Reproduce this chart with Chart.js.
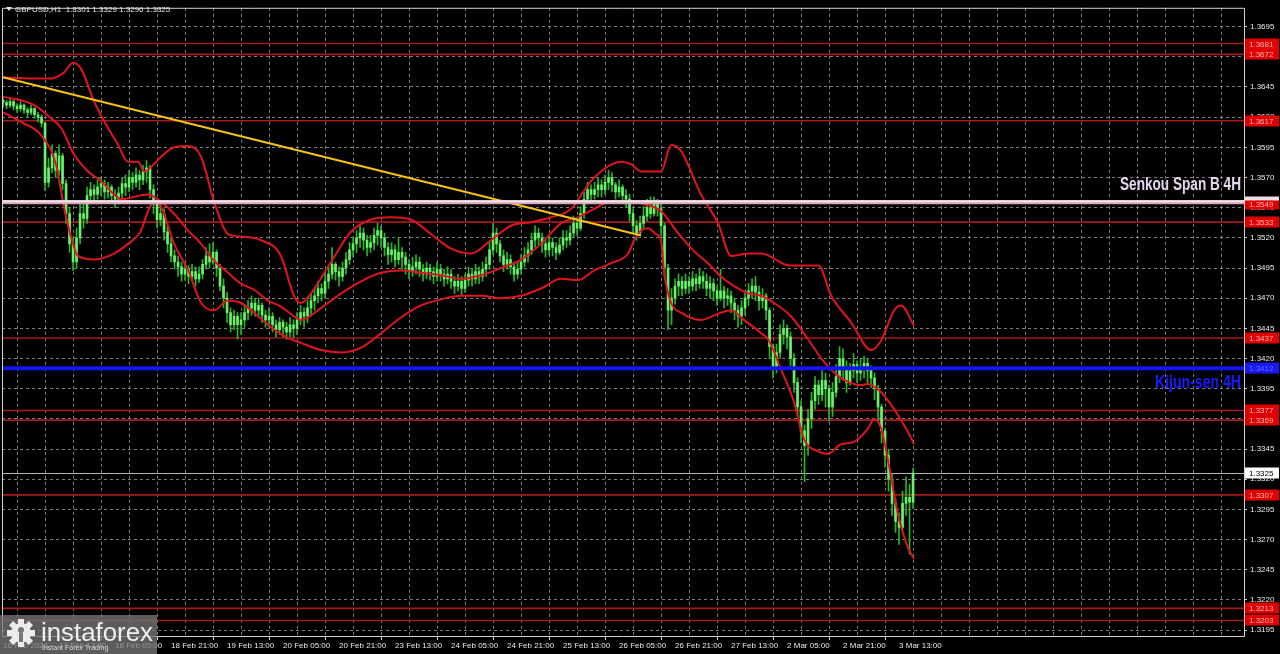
<!DOCTYPE html>
<html><head><meta charset="utf-8">
<script src="https://cdn.jsdelivr.net/npm/chart.js@4.4.1/dist/chart.umd.min.js"></script>
<style>html,body{margin:0;padding:0;background:#000;overflow:hidden}#wrap{position:relative;width:1280px;height:654px}</style>
</head><body><div id="wrap"><canvas id="c"></canvas></div>
<script>
// ---------- DATA ----------
const symbolTitle = 'GBPUSD,H1  1.3301 1.3329 1.3296 1.3325';
const xTickLabels = ['16 Feb 2026','17 Feb 13:00','18 Feb 05:00','18 Feb 21:00','19 Feb 13:00','20 Feb 05:00','20 Feb 21:00','23 Feb 13:00','24 Feb 05:00','24 Feb 21:00','25 Feb 13:00','26 Feb 05:00','26 Feb 21:00','27 Feb 13:00','2 Mar 05:00','2 Mar 21:00','3 Mar 13:00'];
const yTickValues = [1.3195,1.3220,1.3245,1.3270,1.3295,1.3320,1.3345,1.3370,1.3395,1.3420,1.3445,1.3470,1.3495,1.3520,1.3545,1.3570,1.3595,1.3620,1.3645,1.3670,1.3695];

const firstOpen = 1.3634;
const closes = [
1.3632,1.3630,1.3633,1.3629,1.3627,1.3630,1.3626,1.3624,1.3627,1.3622,
1.3620,1.3615,1.3566,1.3578,1.3590,1.3576,1.3588,1.3565,1.3540,1.3515,
1.3500,1.3520,1.3540,1.3536,1.3555,1.3560,1.3556,1.3562,1.3565,1.3558,
1.3562,1.3555,1.3552,1.3557,1.3565,1.3562,1.3570,1.3566,1.3572,1.3568,
1.3575,1.3578,1.3560,1.3548,1.3535,1.3540,1.3525,1.3515,1.3505,1.3500,
1.3496,1.3490,1.3494,1.3488,1.3492,1.3486,1.3490,1.3498,1.3505,1.3500,
1.3508,1.3495,1.3480,1.3470,1.3458,1.3448,1.3455,1.3448,1.3452,1.3458,
1.3462,1.3466,1.3460,1.3464,1.3456,1.3452,1.3455,1.3448,1.3444,1.3450,
1.3446,1.3442,1.3448,1.3445,1.3452,1.3458,1.3455,1.3462,1.3468,1.3472,
1.3478,1.3474,1.3484,1.3490,1.3498,1.3492,1.3488,1.3495,1.3502,1.3510,
1.3515,1.3520,1.3524,1.3518,1.3512,1.3516,1.3522,1.3526,1.3520,1.3512,
1.3506,1.3510,1.3502,1.3508,1.3504,1.3498,1.3492,1.3496,1.3500,1.3494,
1.3490,1.3495,1.3492,1.3488,1.3494,1.3490,1.3486,1.3490,1.3484,1.3480,
1.3484,1.3478,1.3485,1.3490,1.3486,1.3492,1.3488,1.3494,1.3498,1.3510,
1.3524,1.3515,1.3505,1.3498,1.3502,1.3496,1.3490,1.3494,1.3500,1.3505,
1.3510,1.3518,1.3524,1.3520,1.3515,1.3510,1.3516,1.3512,1.3508,1.3514,
1.3520,1.3518,1.3524,1.3532,1.3528,1.3540,1.3552,1.3560,1.3556,1.3560,
1.3564,1.3560,1.3566,1.3570,1.3564,1.3558,1.3562,1.3555,1.3552,1.3540,
1.3530,1.3524,1.3532,1.3538,1.3545,1.3540,1.3548,1.3544,1.3530,1.3495,
1.3460,1.3470,1.3480,1.3484,1.3478,1.3484,1.3480,1.3486,1.3482,1.3488,
1.3484,1.3478,1.3482,1.3476,1.3470,1.3476,1.3470,1.3472,1.3466,1.3460,
1.3455,1.3462,1.3470,1.3476,1.3480,1.3475,1.3468,1.3472,1.3460,1.3430,
1.3412,1.3425,1.3440,1.3445,1.3438,1.3420,1.3400,1.3380,1.3360,1.3348,
1.3370,1.3385,1.3398,1.3390,1.3402,1.3395,1.3380,1.3392,1.3405,1.3420,
1.3412,1.3400,1.3410,1.3415,1.3408,1.3412,1.3416,1.3410,1.3404,1.3395,
1.3380,1.3360,1.3340,1.3320,1.3300,1.3285,1.3280,1.3300,1.3305,1.3301,
1.3325];
const highs = [
1.3636,1.3634,1.3636,1.3634,1.3631,1.3633,1.3631,1.3628,1.3630,1.3628,
1.3624,1.3622,1.3616,1.3586,1.3597,1.3592,1.3597,1.3590,1.3568,1.3545,
1.3520,1.3528,1.3548,1.3550,1.3562,1.3566,1.3564,1.3568,1.3570,1.3568,
1.3566,1.3564,1.3560,1.3562,1.3570,1.3572,1.3576,1.3574,1.3578,1.3576,
1.3580,1.3584,1.3580,1.3564,1.3552,1.3548,1.3544,1.3530,1.3520,1.3510,
1.3505,1.3500,1.3500,1.3497,1.3498,1.3496,1.3496,1.3502,1.3512,1.3515,
1.3516,1.3510,1.3498,1.3486,1.3475,1.3462,1.3460,1.3458,1.3458,1.3464,
1.3468,1.3472,1.3470,1.3470,1.3466,1.3460,1.3462,1.3458,1.3452,1.3454,
1.3452,1.3450,1.3454,1.3452,1.3458,1.3464,1.3462,1.3468,1.3474,1.3478,
1.3484,1.3482,1.3490,1.3496,1.3512,1.3500,1.3496,1.3500,1.3508,1.3516,
1.3520,1.3526,1.3530,1.3528,1.3522,1.3522,1.3528,1.3532,1.3530,1.3524,
1.3516,1.3516,1.3514,1.3520,1.3512,1.3508,1.3502,1.3504,1.3506,1.3504,
1.3498,1.3500,1.3498,1.3496,1.3500,1.3498,1.3494,1.3496,1.3494,1.3488,
1.3490,1.3488,1.3490,1.3496,1.3494,1.3498,1.3496,1.3500,1.3504,1.3516,
1.3532,1.3528,1.3518,1.3510,1.3508,1.3506,1.3500,1.3500,1.3506,1.3512,
1.3516,1.3524,1.3530,1.3528,1.3524,1.3518,1.3522,1.3520,1.3516,1.3520,
1.3526,1.3526,1.3530,1.3538,1.3536,1.3546,1.3558,1.3566,1.3564,1.3566,
1.3570,1.3568,1.3572,1.3576,1.3574,1.3566,1.3568,1.3564,1.3560,1.3556,
1.3544,1.3534,1.3538,1.3546,1.3552,1.3554,1.3554,1.3552,1.3548,1.3532,
1.3498,1.3478,1.3486,1.3490,1.3488,1.3490,1.3488,1.3492,1.3490,1.3494,
1.3492,1.3490,1.3488,1.3486,1.3480,1.3494,1.3480,1.3478,1.3476,1.3470,
1.3464,1.3468,1.3476,1.3482,1.3486,1.3488,1.3480,1.3478,1.3474,1.3462,
1.3432,1.3432,1.3448,1.3452,1.3448,1.3442,1.3424,1.3404,1.3385,1.3365,
1.3378,1.3392,1.3405,1.3402,1.3410,1.3408,1.3398,1.3400,1.3415,1.3430,
1.3428,1.3418,1.3416,1.3424,1.3418,1.3420,1.3422,1.3420,1.3414,1.3408,
1.3398,1.3382,1.3362,1.3345,1.3324,1.3304,1.3292,1.3310,1.3322,1.3316,
1.3329];
const lows = [
1.3628,1.3627,1.3628,1.3626,1.3624,1.3625,1.3623,1.3620,1.3622,1.3619,
1.3616,1.3612,1.3559,1.3562,1.3574,1.3570,1.3572,1.3560,1.3532,1.3508,
1.3493,1.3495,1.3515,1.3528,1.3532,1.3548,1.3550,1.3552,1.3555,1.3552,
1.3553,1.3550,1.3545,1.3548,1.3553,1.3555,1.3558,1.3560,1.3562,1.3560,
1.3564,1.3566,1.3553,1.3540,1.3528,1.3530,1.3518,1.3508,1.3500,1.3494,
1.3488,1.3484,1.3485,1.3482,1.3484,1.3480,1.3483,1.3486,1.3494,1.3495,
1.3498,1.3488,1.3476,1.3462,1.3450,1.3442,1.3444,1.3436,1.3440,1.3446,
1.3452,1.3456,1.3455,1.3454,1.3450,1.3446,1.3446,1.3442,1.3438,1.3440,
1.3438,1.3436,1.3438,1.3437,1.3440,1.3448,1.3446,1.3450,1.3455,1.3460,
1.3466,1.3468,1.3470,1.3478,1.3486,1.3485,1.3480,1.3484,1.3490,1.3498,
1.3504,1.3508,1.3512,1.3510,1.3505,1.3508,1.3510,1.3514,1.3512,1.3505,
1.3498,1.3500,1.3496,1.3498,1.3494,1.3490,1.3486,1.3488,1.3490,1.3488,
1.3484,1.3486,1.3485,1.3482,1.3484,1.3484,1.3480,1.3482,1.3478,1.3474,
1.3476,1.3472,1.3475,1.3480,1.3480,1.3482,1.3482,1.3484,1.3488,1.3494,
1.3506,1.3508,1.3500,1.3492,1.3494,1.3490,1.3484,1.3486,1.3490,1.3496,
1.3500,1.3506,1.3512,1.3514,1.3508,1.3504,1.3506,1.3505,1.3502,1.3506,
1.3510,1.3512,1.3514,1.3520,1.3522,1.3526,1.3536,1.3548,1.3550,1.3552,
1.3554,1.3554,1.3556,1.3560,1.3558,1.3552,1.3554,1.3550,1.3545,1.3534,
1.3524,1.3518,1.3522,1.3528,1.3534,1.3536,1.3538,1.3538,1.3522,1.3488,
1.3444,1.3448,1.3465,1.3472,1.3472,1.3474,1.3474,1.3476,1.3476,1.3478,
1.3478,1.3472,1.3470,1.3468,1.3464,1.3468,1.3462,1.3464,1.3458,1.3452,
1.3446,1.3448,1.3456,1.3464,1.3470,1.3468,1.3460,1.3462,1.3452,1.3420,
1.3404,1.3408,1.3420,1.3432,1.3428,1.3414,1.3392,1.3372,1.3350,1.3318,
1.3340,1.3362,1.3378,1.3382,1.3385,1.3380,1.3368,1.3372,1.3388,1.3400,
1.3402,1.3392,1.3398,1.3404,1.3400,1.3402,1.3404,1.3400,1.3396,1.3386,
1.3368,1.3350,1.3330,1.3310,1.3290,1.3276,1.3266,1.3278,1.3290,1.3258,
1.3296];

// Bollinger bands read at bar positions
const bbUpperIdx = [0,8,13.7,17.4,20,22.3,26,30,32.9,35.7,38.6,40.3,45.1,48.9,52.9,56.6,60.3,64.3,68,73.7,79.4,83.1,85.1,88,93.7,99.4,105,110.9,116.6,122.3,128,133.7,139.4,145.1,150.9,156.6,162.3,166,168.9,176.6,179.4,182.3,188,190.9,193.7,199.4,204.3,208,212.9,216.6,225,233,236.6,242.3,248,250.9,254.6,256.6,260.3];
const bbUpperVal = [1.3653,1.3652,1.3652,1.3657,1.3665,1.3660,1.3633,1.3611,1.3597,1.3583,1.3583,1.3575,1.3587,1.3595,1.3596,1.3587,1.3550,1.3523,1.3521,1.3518,1.3505,1.3472,1.3466,1.3474,1.3500,1.3525,1.3535,1.3537,1.3535,1.3523,1.3511,1.3507,1.3518,1.3530,1.3533,1.3537,1.3544,1.3559,1.3570,1.3583,1.3581,1.3575,1.3575,1.3597,1.3592,1.3556,1.3532,1.3505,1.3507,1.3507,1.3497,1.3497,1.3472,1.3450,1.3427,1.3435,1.3460,1.3464,1.3447];
const bbMiddleIdx = [0,8.9,13.7,16.6,20.3,24.3,28,31.7,33.7,41.4,45.1,48.9,52.9,56.6,60.3,64.3,68,71.7,75.7,79.4,83.1,85.1,90.9,96.6,102.3,108,113.7,119.4,125.1,130.9,136.6,142.3,148,153.7,159.4,164.3,168.9,173.7,179.4,183.1,188,193.1,197.4,201.4,205.1,208.9,212.9,216.6,220.3,225.1,230,234.6,239.4,245.1,247.1,250.9,254.6,258.6,260.3];
const bbMiddleVal = [1.3637,1.3630,1.3619,1.3611,1.3589,1.3575,1.3567,1.3556,1.3552,1.3556,1.3550,1.3540,1.3526,1.3515,1.3501,1.3491,1.3482,1.3477,1.3468,1.3463,1.3455,1.3452,1.3462,1.3474,1.3484,1.3491,1.3493,1.3491,1.3489,1.3486,1.3489,1.3495,1.3502,1.3515,1.3532,1.3537,1.3544,1.3550,1.3550,1.3548,1.3542,1.3523,1.3509,1.3499,1.3488,1.3480,1.3474,1.3472,1.3466,1.3455,1.3436,1.3417,1.3404,1.3398,1.3399,1.3392,1.3378,1.3359,1.3349];
const bbLowerIdx = [0,5.1,10.9,15.1,17.4,19.4,21.4,26,31.7,35.7,39.4,41.4,43.1,45.1,48.9,52.9,56.6,60.3,64.3,68,71.7,77.4,81.4,85.1,90.9,96.6,102.3,108,113.7,119.4,125.1,130.9,136.6,142.3,148,153.7,159.4,164.3,168.9,173.7,178.6,180.3,182.3,184.3,186.6,188,188.9,190.9,193.7,199.4,205.1,208,211.7,216.6,218.6,222.3,226,228.9,232.9,235.7,239.4,243.1,247.1,248.9,250.9,252.9,255.7,258.6,260.3];
const bbLowerVal = [1.3624,1.3616,1.3605,1.3581,1.3546,1.3521,1.3505,1.3502,1.3507,1.3515,1.3526,1.3542,1.3550,1.3546,1.3515,1.3493,1.3466,1.3460,1.3468,1.3466,1.3458,1.3444,1.3437,1.3433,1.3427,1.3425,1.3429,1.3441,1.3454,1.3464,1.3469,1.3472,1.3472,1.3470,1.3472,1.3478,1.3486,1.3485,1.3493,1.3499,1.3507,1.3518,1.3526,1.3528,1.3523,1.3518,1.3491,1.3466,1.3458,1.3452,1.3458,1.3460,1.3452,1.3441,1.3436,1.3411,1.3384,1.3353,1.3343,1.3341,1.3349,1.3351,1.3362,1.3370,1.3362,1.3335,1.3291,1.3263,1.3254];

const trendIdx = [0, 182.3];
const trendVal = [1.3653, 1.3522];

const redLevels = [1.3681,1.3672,1.3617,1.3533,1.3437,1.3377,1.3369,1.3307,1.3213,1.3203];
const senkouLevel = 1.3550;
const kijunLevel = 1.3412;
const lastPrice = 1.3325;

// ---------- BUILD ----------
const opens = closes.map((c,i)=> i===0 ? firstOpen : closes[i-1]);
const wickData = highs.map((h,i)=>({x:i, y:[lows[i], h]}));
const bodyData = closes.map((c,i)=>({x:i, y:[opens[i], c]}));
const toPts = (idx,val)=>idx.map((x,k)=>({x:x, y:val[k]}));

const FONT = '"Liberation Sans", Arial, sans-serif';

const overlay = {
  id:'overlay',
  beforeDraw(chart){
    const c = chart.ctx;
    c.save(); c.fillStyle = '#000'; c.fillRect(0,0,chart.width,chart.height); c.restore();
  },
  beforeDatasetsDraw(chart){
    const c = chart.ctx, y = chart.scales.y, a = chart.chartArea;
    c.save();
    c.beginPath(); c.rect(a.left, a.top, a.right-a.left, a.bottom-a.top); c.clip();
    c.strokeStyle = '#a51a1a'; c.lineWidth = 1.6;
    redLevels.forEach(v=>{
      const py = y.getPixelForValue(v);
      c.beginPath(); c.moveTo(a.left, py); c.lineTo(a.right, py); c.stroke();
    });
    const lp = Math.round(y.getPixelForValue(lastPrice)) + 0.5;
    c.strokeStyle = '#b4b4b4'; c.lineWidth = 1;
    c.beginPath(); c.moveTo(a.left, lp); c.lineTo(a.right, lp); c.stroke();
    c.restore();
  },
  afterDatasetsDraw(chart){
    const c = chart.ctx, y = chart.scales.y, a = chart.chartArea;
    c.save();
    c.beginPath(); c.rect(a.left, a.top, a.right-a.left, a.bottom-a.top); c.clip();
    let py = y.getPixelForValue(senkouLevel);
    c.strokeStyle = '#d9a6bb'; c.lineWidth = 4;
    c.beginPath(); c.moveTo(a.left, py+0.5); c.lineTo(a.right, py+0.5); c.stroke();
    c.strokeStyle = '#f6e8ee'; c.lineWidth = 2;
    c.beginPath(); c.moveTo(a.left, py-0.5); c.lineTo(a.right, py-0.5); c.stroke();
    py = y.getPixelForValue(kijunLevel);
    c.strokeStyle = '#1414f0'; c.lineWidth = 4;
    c.beginPath(); c.moveTo(a.left, py); c.lineTo(a.right, py); c.stroke();
    c.restore();
  },
  afterDraw(chart){
    const c = chart.ctx, y = chart.scales.y, a = chart.chartArea;
    c.save();
    // frame
    c.strokeStyle = '#d2d2d2'; c.lineWidth = 1;
    c.beginPath();
    c.moveTo(a.left+0.5, a.top+0.5); c.lineTo(a.right+0.5, a.top+0.5);
    c.lineTo(a.right+0.5, a.bottom+0.5); c.lineTo(a.left+0.5, a.bottom+0.5); c.closePath();
    c.stroke();

    // price boxes
    c.font = '8px ' + FONT; c.textBaseline = 'middle'; c.textAlign = 'left';
    const box = (v, bg, fg) => {
      const py = Math.round(y.getPixelForValue(v));
      c.fillStyle = bg; c.fillRect(a.right+1, py-5.5, 34, 11);
      c.fillStyle = fg; c.fillText(v.toFixed(4), a.right+5, py+0.5);
    };
    redLevels.forEach(v=>box(v, '#e00000', '#ffb4b4'));
    box(senkouLevel, '#f1dfe8', '#d08090');
    const sp = Math.round(y.getPixelForValue(senkouLevel));
    c.fillStyle = '#e00000'; c.fillRect(a.right+1, sp-1.5, 34, 9);
    c.fillStyle = '#ffb4b4'; c.fillText((senkouLevel-0.0001).toFixed(4), a.right+5, sp+3);
    box(kijunLevel, '#1818f0', '#6a6aff');
    box(lastPrice, '#ffffff', '#000000');

    // title
    c.fillStyle = '#e8e8e8';
    c.beginPath(); c.moveTo(6,7); c.lineTo(12,7); c.lineTo(9,11); c.closePath(); c.fill();
    c.font = '8px ' + FONT; c.textBaseline = 'alphabetic'; c.textAlign = 'left';
    c.fillText(symbolTitle, 15, 12);

    // indicator captions
    const caption = (txt, color, right, base, width) => {
      c.save();
      c.font = 'bold 18px ' + FONT;
      const w = c.measureText(txt).width;
      c.translate(right, base); c.scale(width / w, 1);
      c.textAlign = 'right'; c.textBaseline = 'alphabetic';
      c.fillStyle = color; c.fillText(txt, 0, 0);
      c.restore();
    };
    caption('Senkou Span B 4H', '#e4d6ee', 1241, 190, 121);
    caption('Kijun-sen 4H', '#1a1aff', 1241, 388, 86);

    // logo
    c.fillStyle = 'rgba(118,118,118,0.78)';
    c.fillRect(0, 615, 157, 39);
    const gx = 21, gy = 633;
    c.fillStyle = '#ececec';
    for (let k=0;k<8;k++){
      c.save(); c.translate(gx,gy); c.rotate(k*Math.PI/4);
      c.fillRect(-3, -14, 6, 6); c.restore();
    }
    c.beginPath(); c.arc(gx, gy, 10, 0, Math.PI*2); c.fill();
    c.fillStyle = 'rgba(118,118,118,1)';
    c.beginPath(); c.arc(gx, gy-3, 3, 0, Math.PI*2); c.fill();
    c.fillRect(gx-2, gy, 4, 9);
    c.save();
    c.font = '25px ' + FONT;
    const lw = c.measureText('instaforex').width;
    c.translate(41, 641); c.scale(112/lw, 1);
    c.fillStyle = '#efefef'; c.textAlign = 'left'; c.textBaseline = 'alphabetic';
    c.fillText('instaforex', 0, 0);
    c.restore();
    c.font = '7px ' + FONT; c.fillStyle = '#d8d8d8'; c.textAlign = 'left';
    c.fillText('Instant Forex Trading', 42, 650);
    c.restore();
  }
};

const gridCol = 'rgba(165,165,165,0.75)';
new Chart(document.getElementById('c'), {
  type: 'bar',
  data: { datasets: [
    { type:'bar', data: wickData, backgroundColor:'#27b627', barThickness:1, grouped:false, order:5, borderWidth:0 },
    { type:'bar', data: bodyData, backgroundColor:'#6af06a', barThickness:2, grouped:false, order:4, borderWidth:0, minBarLength:1 },
    { type:'line', data: toPts(bbUpperIdx,bbUpperVal), borderColor:'#e0141e', borderWidth:2, pointRadius:0, fill:false, cubicInterpolationMode:'monotone', order:2 },
    { type:'line', data: toPts(bbMiddleIdx,bbMiddleVal), borderColor:'#e0141e', borderWidth:2, pointRadius:0, fill:false, cubicInterpolationMode:'monotone', order:2 },
    { type:'line', data: toPts(bbLowerIdx,bbLowerVal), borderColor:'#e0141e', borderWidth:2, pointRadius:0, fill:false, cubicInterpolationMode:'monotone', order:2 },
    { type:'line', data: toPts(trendIdx,trendVal), borderColor:'#f7c21a', borderWidth:2, pointRadius:0, fill:false, tension:0, order:1 }
  ]},
  options: {
    responsive:true, maintainAspectRatio:false, animation:false,
    layout:{ padding:{ left:2, top:2, right:0, bottom:0 } },
    plugins:{ legend:{display:false}, tooltip:{enabled:false}, title:{display:false} },
    scales:{
      x:{
        type:'linear', min:-0.3, max:354.56, offset:false,
        afterBuildTicks: s => { const t=[]; for(let v=0; v<=352; v+=8) t.push({value:v}); s.ticks = t; },
        afterFit: s => { s.height = 18; },
        grid:{ color:gridCol, lineWidth:1, drawTicks:true, tickLength:4,
               tickColor: ctx => (ctx.tick && ctx.tick.value%16===0 && ctx.tick.value/16 < xTickLabels.length) ? '#d0d0d0' : 'rgba(0,0,0,0)' },
        border:{ display:false, dash:[3,3] },
        ticks:{ autoSkip:false, maxRotation:0, minRotation:0, align:'start', padding:1, color:'#e8e8e8',
                font:{ family:'Liberation Sans', size:8 },
                callback: v => (v%16===0 && v/16 < xTickLabels.length) ? xTickLabels[v/16] : '' }
      },
      y:{
        type:'linear', position:'right', min:1.31901, max:1.37106,
        afterBuildTicks: s => { s.ticks = yTickValues.map(v=>({value:v})); },
        afterFit: s => { s.width = 36; },
        grid:{ color:gridCol, lineWidth:1, drawTicks:true, tickLength:3, tickColor:'#d0d0d0' },
        border:{ display:false, dash:[3,3] },
        ticks:{ padding:3, color:'#e8e8e8', font:{ family:'Liberation Sans', size:8 },
                callback: v => Number(v).toFixed(4) }
      }
    }
  },
  plugins:[overlay]
});
</script>
</body></html>
